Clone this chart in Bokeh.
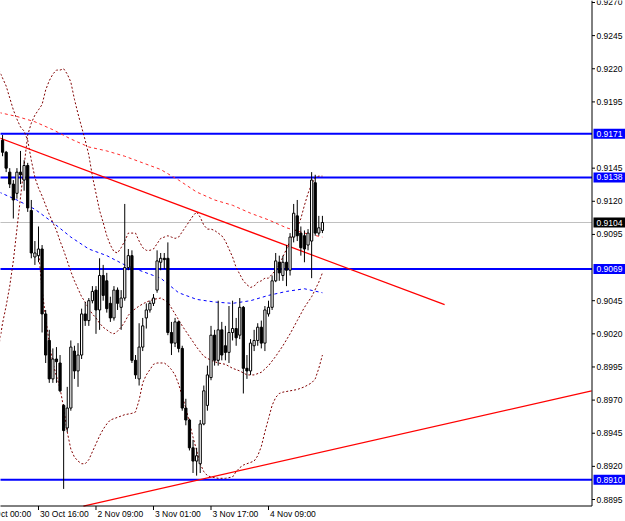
import numpy as np
from bokeh.plotting import figure
from bokeh.models import Range1d
from bokeh.core.properties import value
from bokeh.embed import file_html
from bokeh.resources import INLINE

# ---------------- data ----------------
bars = list(range(6, 96))
opens = [0.9166, 0.9157, 0.9142, 0.9133, 0.9126, 0.9142, 0.9136, 0.9147, 0.9113, 0.9078,
         0.9079, 0.9084, 0.9035, 0.9015, 0.8986, 0.9001, 0.8998, 0.8966, 0.8949, 0.8964,
         0.9007, 0.8992, 0.9004, 0.9035, 0.9030, 0.9045, 0.9053, 0.9038, 0.9064, 0.9060,
         0.9043, 0.9032, 0.9053, 0.9040, 0.9047, 0.9070, 0.9079, 0.9000, 0.8986, 0.9010,
         0.9032, 0.9038, 0.9043, 0.9053, 0.9074, 0.9077, 0.9077, 0.9021, 0.9013, 0.9029,
         0.9009, 0.8964, 0.8955, 0.8934, 0.8924, 0.8922, 0.8952, 0.8966, 0.8987, 0.9019,
         0.9000, 0.9023, 0.9011, 0.9006, 0.9021, 0.9024, 0.9019, 0.9040, 0.8994, 0.8992,
         0.9011, 0.9015, 0.9025, 0.9013, 0.9035, 0.9040, 0.9060, 0.9074, 0.9064, 0.9074,
         0.9068, 0.9093, 0.9109, 0.9096, 0.9094, 0.9087, 0.9090, 0.9134, 0.9096, 0.9098]
highs = [0.9170, 0.9158, 0.9145, 0.9136, 0.9145, 0.9158, 0.9151, 0.9149, 0.9121, 0.9090,
         0.9101, 0.9087, 0.9038, 0.9023, 0.9009, 0.9010, 0.9004, 0.8967, 0.8980, 0.9015,
         0.9011, 0.9013, 0.9039, 0.9044, 0.9047, 0.9056, 0.9056, 0.9077, 0.9072, 0.9066,
         0.9048, 0.9056, 0.9055, 0.9053, 0.9118, 0.9084, 0.9083, 0.9004, 0.9028, 0.9032,
         0.9043, 0.9045, 0.9050, 0.9083, 0.9081, 0.9081, 0.9089, 0.9029, 0.9032, 0.9030,
         0.9011, 0.8971, 0.8956, 0.8940, 0.8934, 0.8955, 0.8981, 0.8996, 0.9026, 0.9023,
         0.9045, 0.9029, 0.9026, 0.9041, 0.9045, 0.9032, 0.9047, 0.9041, 0.9004, 0.9016,
         0.9023, 0.9028, 0.9030, 0.9041, 0.9045, 0.9064, 0.9081, 0.9079, 0.9079, 0.9087,
         0.9096, 0.9118, 0.9121, 0.9101, 0.9098, 0.9099, 0.9142, 0.9140, 0.9109, 0.9109]
lows = [0.9154, 0.9142, 0.9130, 0.9107, 0.9122, 0.9133, 0.9128, 0.9112, 0.9077, 0.9072,
        0.9074, 0.9021, 0.8998, 0.8983, 0.8983, 0.8983, 0.8976, 0.8903, 0.8946, 0.8962,
        0.8986, 0.8980, 0.9001, 0.9026, 0.9026, 0.9043, 0.9020, 0.9023, 0.9045, 0.9036,
        0.9029, 0.9030, 0.9038, 0.9023, 0.9045, 0.9068, 0.8998, 0.8986, 0.8981, 0.9007,
        0.9024, 0.9036, 0.9041, 0.9051, 0.9068, 0.9069, 0.9019, 0.9004, 0.9010, 0.9006,
        0.8962, 0.8951, 0.8932, 0.8915, 0.8913, 0.8915, 0.8951, 0.8962, 0.8985, 0.8996,
        0.8996, 0.9000, 0.9000, 0.8998, 0.9015, 0.9011, 0.9016, 0.8975, 0.8986, 0.8989,
        0.9007, 0.9011, 0.9009, 0.9007, 0.9033, 0.9038, 0.9059, 0.9060, 0.9060, 0.9056,
        0.9064, 0.9089, 0.9090, 0.9079, 0.9074, 0.9083, 0.9062, 0.9094, 0.9094, 0.9096]
closes = [0.9157, 0.9145, 0.9133, 0.9121, 0.9142, 0.9140, 0.9147, 0.9115, 0.9081, 0.9081,
          0.9084, 0.9035, 0.9004, 0.8986, 0.9001, 0.8999, 0.8977, 0.8947, 0.8964, 0.9010,
          0.8992, 0.9004, 0.9035, 0.9030, 0.9045, 0.9052, 0.9038, 0.9064, 0.9049, 0.9039,
          0.9032, 0.9053, 0.9043, 0.9047, 0.9070, 0.9079, 0.9000, 0.8989, 0.9010, 0.9026,
          0.9038, 0.9043, 0.9047, 0.9075, 0.9077, 0.9076, 0.9021, 0.9013, 0.9029, 0.9009,
          0.8964, 0.8955, 0.8934, 0.8924, 0.8928, 0.8952, 0.8977, 0.8989, 0.9019, 0.9000,
          0.9023, 0.9004, 0.9006, 0.9021, 0.9024, 0.9017, 0.9040, 0.8994, 0.8992, 0.9013,
          0.9015, 0.9025, 0.9013, 0.9038, 0.9040, 0.9060, 0.9075, 0.9066, 0.9074, 0.9068,
          0.9093, 0.9111, 0.9094, 0.9085, 0.9084, 0.9096, 0.9136, 0.9096, 0.9100, 0.9104]

# dotted band curves
bandB_bars = list(range(5, 96))
bandB_vals = [0.9011, 0.9028, 0.9041, 0.9056, 0.9075, 0.9099, 0.9123, 0.9147, 0.9170, 0.9179,
              0.9185, 0.9189, 0.9193, 0.9204, 0.9211, 0.9216, 0.9219, 0.9219, 0.9220, 0.9216,
              0.9210, 0.9197, 0.9186, 0.9176, 0.9166, 0.9155, 0.9139, 0.9126, 0.9113, 0.9104,
              0.9094, 0.9087, 0.9082, 0.9081, 0.9085, 0.9090, 0.9096, 0.9096, 0.9096, 0.9090,
              0.9085, 0.9083, 0.9083, 0.9084, 0.9088, 0.9092, 0.9093, 0.9094, 0.9093, 0.9092,
              0.9093, 0.9097, 0.9101, 0.9105, 0.9109, 0.9112, 0.9108, 0.9102, 0.9099, 0.9099,
              0.9098, 0.9096, 0.9094, 0.9090, 0.9084, 0.9078, 0.9070, 0.9065, 0.9060, 0.9057,
              0.9055, 0.9056, 0.9059, 0.9060, 0.9062, 0.9062, 0.9065, 0.9068, 0.9072, 0.9078,
              0.9084, 0.9090, 0.9096, 0.9100, 0.9107, 0.9117, 0.9126, 0.9133, 0.9138, 0.9139,
              0.9139]
bandA_bars = [5, 6, 7, 8, 9, 10, 11, 12, 13, 14, 15, 16, 17, 18, 19, 20, 21, 22, 23, 24,
              25, 26, 27, 28, 29, 30, 31, 32, 33, 34, 35, 36, 37, 38, 39, 40, 41, 42, 43, 44,
              46, 48, 50, 52, 54, 56, 58, 60, 62, 64, 66, 68, 70, 72, 74, 76, 78, 80, 82, 84,
              86, 88, 90, 92, 94, 95]
bandA_vals = [0.9219, 0.9213, 0.9207, 0.9198, 0.9189, 0.9182, 0.9176, 0.9173, 0.9166, 0.9151,
              0.9138, 0.9130, 0.9124, 0.9117, 0.9110, 0.9104, 0.9098, 0.9090, 0.9083, 0.9075,
              0.9067, 0.9060, 0.9054, 0.9048, 0.9044, 0.9039, 0.9035, 0.9032, 0.9028, 0.9025,
              0.9023, 0.9021, 0.9020, 0.9022, 0.9025, 0.9029, 0.9034, 0.9037, 0.9039, 0.9041,
              0.9044, 0.9046, 0.9047, 0.9044, 0.9035, 0.9026, 0.9018, 0.9010, 0.9003, 0.9000,
              0.8998, 0.8997, 0.8994, 0.8992, 0.8989, 0.8989, 0.8991, 0.8996, 0.9003, 0.9011,
              0.9020, 0.9030, 0.9040, 0.9048, 0.9059, 0.9066]
bandC_bars = [16, 17, 18, 19, 20, 21, 22, 23, 24, 25, 26, 27, 28, 29, 30, 31, 32, 33, 34, 35,
              36, 37, 38, 40, 42, 43, 44, 45, 46, 47, 48, 49, 50, 51, 52, 53, 54, 55, 56, 57,
              58, 59, 60, 61, 62, 63, 64, 66, 68, 70, 71, 72, 73, 74, 75, 76, 77, 78, 79, 80,
              81, 82, 83, 84, 86, 88, 90, 92, 93, 94, 95]
bandC_vals = [0.9083, 0.9053, 0.9032, 0.9013, 0.8998, 0.8988, 0.8979, 0.8964, 0.8946, 0.8933,
              0.8927, 0.8924, 0.8922, 0.8922, 0.8925, 0.8931, 0.8937, 0.8943, 0.8948, 0.8952,
              0.8955, 0.8956, 0.8957, 0.8959, 0.8960, 0.8961, 0.8970, 0.8983, 0.8989, 0.8993,
              0.8997, 0.8998, 0.8998, 0.8998, 0.8996, 0.8993, 0.8989, 0.8982, 0.8973, 0.8964,
              0.8953, 0.8942, 0.8932, 0.8922, 0.8916, 0.8913, 0.8912, 0.8911, 0.8911, 0.8912,
              0.8916, 0.8919, 0.8921, 0.8922, 0.8923, 0.8924, 0.8928, 0.8935, 0.8946, 0.8956,
              0.8966, 0.8972, 0.8975, 0.8976, 0.8977, 0.8978, 0.8980, 0.8983, 0.8986, 0.8994,
              0.9004]
# moving averages
ma_bars = [5, 10, 15, 20, 25, 30, 35, 40, 45, 50, 55, 60, 65, 70, 75, 80, 85, 90, 95]
ma_red = [0.9187, 0.9184, 0.9180, 0.9174, 0.9167, 0.9161, 0.9158, 0.9154, 0.9149, 0.9144,
          0.9136, 0.9127, 0.9121, 0.9117, 0.9111, 0.9106, 0.9100, 0.9096, 0.9093]
ma_blue = [0.9127, 0.9121, 0.9114, 0.9104, 0.9093, 0.9084, 0.9079, 0.9072, 0.9067, 0.9062,
           0.9051, 0.9046, 0.9044, 0.9043, 0.9045, 0.9049, 0.9052, 0.9054, 0.9051]

# trend lines: visible end points (bar, price)
trend1_bars = [5, 129]
trend1_vals = [0.9168, 0.9042]
trend2_bars = [28.5, 169.9]
trend2_vals = [0.8890, 0.8977]

levels = [0.9171, 0.9138, 0.9069, 0.8910]
bid = 0.9104

price_ticks = [0.9270, 0.9245, 0.9220, 0.9195, 0.9145, 0.9120, 0.9095,
               0.9045, 0.9020, 0.8995, 0.8970, 0.8945, 0.8920, 0.8895]
time_ticks = [0, 16, 32, 48, 64, 80]
time_labels = ["30 Oct 00:00", "30 Oct 16:00", "2 Nov 09:00", "3 Nov 01:00",
               "3 Nov 17:00", "4 Nov 09:00"]

# ---------------- layout constants ----------------
W, H = 625, 521
PX_BAR = 3.594            # pixels per bar
PX_PRICE = 0.00007545     # price per pixel
X_LEFT = 5.43
X_RIGHT = X_LEFT + W / PX_BAR
Y_TOP = 0.92715
Y_BOT = Y_TOP - H * PX_PRICE
AX_X = X_LEFT + 591.5 / PX_BAR        # price scale line
AX_Y = Y_TOP - 505.5 * PX_PRICE       # time scale line
FONT = value("Liberation Sans")
FS = value("8.5px")

p = figure(width=W, height=H, output_backend="svg", toolbar_location=None,
           x_range=Range1d(X_LEFT, X_RIGHT), y_range=Range1d(Y_BOT, Y_TOP),
           x_axis_location=None, y_axis_location=None, min_border=0)
p.outline_line_color = None
p.grid.visible = False
p.background_fill_color = "white"
p.border_fill_color = "white"

# horizontal levels and bid line
for lv in levels:
    p.line([X_LEFT - 5, AX_X], [lv, lv], line_color="#0000ff", line_width=2)
p.line([X_LEFT - 5, AX_X], [bid, bid], line_color="#c0c0c0", line_width=1)

# indicator curves
p.line(ma_bars, ma_red, line_color="#ff2a2a", line_width=1, line_dash="3 3")
p.line(ma_bars, ma_blue, line_color="#0000ff", line_width=1, line_dash="3 3")
p.line(bandA_bars, bandA_vals, line_color="#800000", line_width=1, line_dash="2 2")
p.line(bandB_bars, bandB_vals, line_color="#800000", line_width=1, line_dash="2 2")
p.line(bandC_bars, bandC_vals, line_color="#800000", line_width=1, line_dash="2 2")

# trend lines
p.line(trend1_bars, trend1_vals, line_color="#ff0000", line_width=1.2)
p.line(trend2_bars, trend2_vals, line_color="#ff0000", line_width=1.2)

# candles
x = np.array(bars, dtype=float)
o = np.array(opens); h = np.array(highs); l = np.array(lows); c = np.array(closes)
up = c >= o
top = np.maximum(o, c)
bot = np.minimum(o, c)
p.segment(x, l, x, h, line_color="black", line_width=1)
p.vbar(x=x[~up], width=0.62, top=top[~up], bottom=bot[~up],
       fill_color="black", line_color="black", line_width=1)
p.vbar(x=x[up], width=0.62, top=top[up], bottom=bot[up],
       fill_color="white", line_color="black", line_width=1)

# ---- price scale (right) ----
p.segment([AX_X], [Y_TOP], [AX_X], [AX_Y], line_color="black", line_width=1)
p.segment([AX_X] * len(price_ticks), price_ticks,
          [AX_X + 3 / PX_BAR] * len(price_ticks), price_ticks,
          line_color="black", line_width=1)
p.text(x=[AX_X + 4.5 / PX_BAR] * len(price_ticks), y=price_ticks,
       text=[f"{t:.4f}" for t in price_ticks], text_align="left",
       text_baseline="middle", text_font=FONT, text_font_size=FS, text_color="black")

# ---- time scale (bottom) ----
p.segment([X_LEFT - 5], [AX_Y], [AX_X], [AX_Y], line_color="black", line_width=1)
p.segment(time_ticks, [AX_Y] * len(time_ticks), time_ticks,
          [AX_Y - 4 * PX_PRICE] * len(time_ticks), line_color="black", line_width=1)
p.text(x=time_ticks, y=[AX_Y - 7.5 * PX_PRICE] * len(time_ticks), text=time_labels,
       x_offset=1.5, text_align="left", text_baseline="middle",
       text_font=FONT, text_font_size=FS, text_color="black")

# ---- price boxes for the horizontal lines ----
BOX_L = X_LEFT + 593 / PX_BAR
BOX_H = 5 * PX_PRICE
p.quad(left=[BOX_L] * len(levels), right=[X_RIGHT + 1] * len(levels),
       top=[lv + BOX_H for lv in levels], bottom=[lv - BOX_H for lv in levels],
       fill_color="#0000ff", line_color=None)
p.quad(left=[BOX_L], right=[X_RIGHT + 1], top=[bid + BOX_H], bottom=[bid - BOX_H],
       fill_color="black", line_color=None)
box_vals = levels + [bid]
p.text(x=[AX_X + 4.5 / PX_BAR] * len(box_vals), y=box_vals,
       text=[f"{v:.4f}" for v in box_vals], text_align="left", text_baseline="middle",
       text_font=FONT, text_font_size=FS, text_color="white")

open("out.html", "w").write(file_html(p, INLINE))
